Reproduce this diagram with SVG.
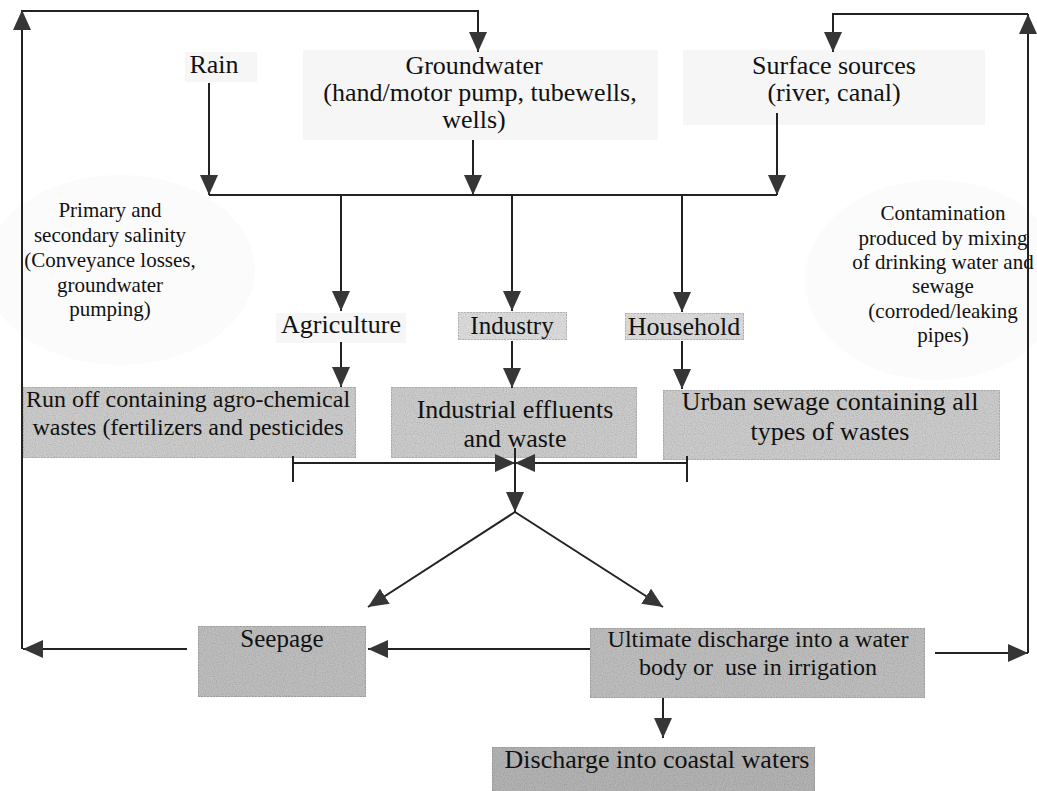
<svg xmlns="http://www.w3.org/2000/svg" width="1037" height="791" viewBox="0 0 1037 791">
<style>
text{font-family:'Liberation Serif','Times New Roman',Times,serif;fill:#111111;text-anchor:middle}
.c{fill:none;stroke:#222;stroke-width:2}
.a{fill:none;stroke:#222;stroke-width:2;marker-end:url(#ah)}
.box{fill:#cbcbcb;stroke:#999999;stroke-width:1;stroke-dasharray:2 1;filter:url(#grain)}
.dark{fill:#bdbdbd;stroke:#8f8f8f;stroke-width:1;stroke-dasharray:2 1;filter:url(#grain)}
.lab{fill:#dcdcdc;stroke:#999999;stroke-width:1;stroke-dasharray:2 1;filter:url(#grain)}
.faint{fill:#f6f6f6}
.blob{fill:#fbfbfb}
</style>
<defs>
<marker id="ah" viewBox="0 0 20 18" refX="20" refY="9" markerWidth="20" markerHeight="18" orient="auto" markerUnits="userSpaceOnUse">
<path d="M0,0 L20,9 L0,18 z" fill="#363636"/>
</marker>
<filter id="grain" x="0" y="0" width="1" height="1">
<feTurbulence type="fractalNoise" baseFrequency="0.9" numOctaves="1" seed="4" result="n"/>
<feColorMatrix in="n" type="matrix" values="0 0 0 0 0 0 0 0 0 0 0 0 0 0 0 0.6 0 0 0 -0.25" result="d"/>
<feComposite in="d" in2="SourceGraphic" operator="in" result="dd"/>
<feMerge><feMergeNode in="SourceGraphic"/><feMergeNode in="dd"/></feMerge>
</filter>
</defs>
<rect width="1037" height="791" fill="#ffffff"/>
<g id="background">
<ellipse class="blob" cx="120" cy="270" rx="135" ry="95"/>
<ellipse class="blob" cx="935" cy="280" rx="130" ry="100"/>
</g>
<g id="rain">
<rect class="faint" x="185" y="52" width="72" height="30"/>
<text x="214" y="73" font-size="26">Rain</text>
</g>
<g id="groundwater">
<rect class="faint" x="303" y="50" width="355" height="90"/>
<text x="474" y="74" font-size="26">Groundwater</text>
<text x="480" y="101" font-size="26">(hand/motor pump, tubewells,</text>
<text x="474" y="128" font-size="26">wells)</text>
</g>
<g id="surface">
<rect class="faint" x="683" y="50" width="302" height="75"/>
<text x="834" y="74" font-size="26">Surface sources</text>
<text x="834" y="101" font-size="26">(river, canal)</text>
</g>
<g id="salinity">
<text x="110" y="217" font-size="21">Primary and</text>
<text x="110" y="242" font-size="21">secondary salinity</text>
<text x="110" y="267" font-size="21">(Conveyance losses,</text>
<text x="110" y="292" font-size="21">groundwater</text>
<text x="110" y="316" font-size="21">pumping)</text>
</g>
<g id="contamination">
<text x="943" y="220" font-size="21">Contamination</text>
<text x="943" y="245" font-size="21">produced by mixing</text>
<text x="943" y="269" font-size="21">of drinking water and</text>
<text x="943" y="293" font-size="21">sewage</text>
<text x="943" y="318" font-size="21">(corroded/leaking</text>
<text x="943" y="342" font-size="21">pipes)</text>
</g>
<g id="agriculture">
<rect class="faint" x="276" y="313" width="130" height="30"/>
<text x="341" y="333" font-size="26">Agriculture</text>
</g>
<g id="industry">
<rect class="lab" x="458" y="312" width="109" height="28"/>
<text x="512" y="334" font-size="25">Industry</text>
</g>
<g id="household">
<rect class="lab" x="625" y="313" width="119" height="27"/>
<text x="684" y="335" font-size="26">Household</text>
</g>
<g id="runoff">
<rect class="box" x="23" y="387" width="333" height="71"/>
<text x="188" y="407" font-size="24">Run off containing agro-chemical</text>
<text x="188" y="435" font-size="24">wastes (fertilizers and pesticides</text>
</g>
<g id="effluents">
<rect class="box" x="391" y="387" width="246" height="71"/>
<text x="515" y="418" font-size="26">Industrial effluents</text>
<text x="515" y="447" font-size="26">and waste</text>
</g>
<g id="sewage">
<rect class="box" x="663" y="390" width="337" height="70"/>
<text x="830" y="410" font-size="26">Urban sewage containing all</text>
<text x="830" y="440" font-size="26">types of wastes</text>
</g>
<g id="seepage">
<rect class="dark" x="198" y="626" width="168" height="71"/>
<text x="282" y="647" font-size="25">Seepage</text>
</g>
<g id="ultimate">
<rect class="dark" x="590" y="628" width="335" height="70"/>
<text x="758" y="647" font-size="24">Ultimate discharge into a water</text>
<text x="758" y="675" font-size="24" style="white-space:pre">body or  use in irrigation</text>
</g>
<g id="coastal">
<rect class="dark" x="492" y="747" width="323" height="50" style="fill:#b2b2b2"/>
<text x="657" y="768" font-size="26">Discharge into coastal waters</text>
</g>
<g id="connectors">
<path class="a" d="M22,649 L22,10"/>
<path class="a" d="M22,11 L478,11 L478,52"/>
<path class="a" d="M935,653 L1028,653"/>
<path class="a" d="M1028,653 L1028,14"/>
<path class="a" d="M1028,14 L833,14 L833,52"/>
<path class="a" d="M209,83 L209,195"/>
<path class="a" d="M473,140 L473,195"/>
<path class="a" d="M777,113 L777,195"/>
<path class="c" d="M209,195 L777,195"/>
<path class="a" d="M341,195 L341,311"/>
<path class="a" d="M512,195 L512,311"/>
<path class="a" d="M682,195 L682,312"/>
<path class="a" d="M341,342 L341,387"/>
<path class="a" d="M512,341 L512,388"/>
<path class="a" d="M682,341 L682,389"/>
<path class="a" d="M293,463 L515,463"/>
<path class="a" d="M687,463 L515,463"/>
<path class="c" d="M293,456 L293,482 M687,456 L687,482"/>
<path class="a" d="M515,448 L515,512"/>
<path class="a" d="M515,512 L368,607"/>
<path class="a" d="M515,512 L663,607"/>
<path class="a" d="M590,649 L368,649"/>
<path class="a" d="M187,649 L23,649"/>
<path class="a" d="M663,698 L663,738"/>
</g>
</svg>
